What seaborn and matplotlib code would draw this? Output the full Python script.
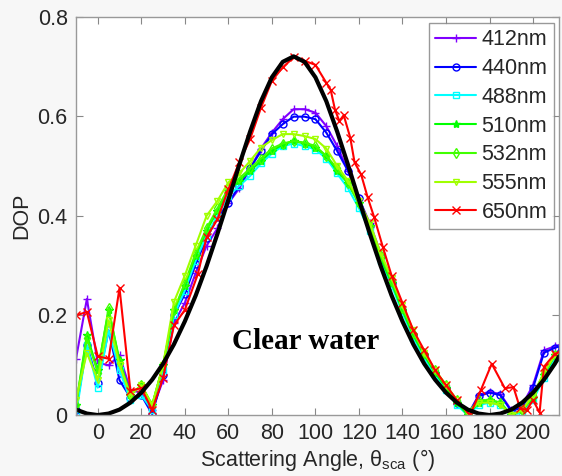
import numpy as np
import pandas as pd
import matplotlib
matplotlib.use("Agg")
import matplotlib.pyplot as plt
import seaborn as sns

# ---------------- data ----------------
angles = [-10, -5, 0, 5, 10, 15, 20, 25, 30, 35, 40, 45, 50, 55, 60, 65, 70, 75, 80, 85,
          90, 95, 100, 105, 110, 115, 120, 125, 130, 135, 140, 145, 150, 155, 160, 165,
          170, 175, 180, 185, 190, 195, 200, 205, 210, 215]

dop_412 = [0.113, 0.233, 0.105, 0.100, 0.120, 0.050, 0.045, 0.010, 0.070, 0.185, 0.225, 0.285,
           0.340, 0.375, 0.425, 0.455, 0.495, 0.535, 0.567, 0.594, 0.614, 0.614, 0.607, 0.580,
           0.540, 0.490, 0.435, 0.385, 0.325, 0.265, 0.210, 0.160, 0.120, 0.085, 0.055, 0.025,
           0.000, 0.040, 0.047, 0.042, 0.010, 0.020, 0.060, 0.130, 0.138, 0.145]
dop_440 = [0.010, 0.140, 0.065, 0.170, 0.070, 0.035, 0.040, 0.002, 0.080, 0.200, 0.243, 0.303,
           0.355, 0.397, 0.425, 0.460, 0.495, 0.530, 0.564, 0.584, 0.599, 0.599, 0.594, 0.567,
           0.530, 0.490, 0.435, 0.380, 0.320, 0.265, 0.210, 0.160, 0.120, 0.085, 0.055, 0.025,
           0.000, 0.038, 0.045, 0.040, 0.008, 0.015, 0.055, 0.125, 0.135, 0.142]
dop_488 = [0.000, 0.140, 0.055, 0.170, 0.090, 0.030, 0.040, 0.010, 0.090, 0.200, 0.250, 0.310,
           0.360, 0.400, 0.440, 0.460, 0.480, 0.505, 0.525, 0.540, 0.545, 0.540, 0.533, 0.515,
           0.485, 0.455, 0.415, 0.370, 0.310, 0.260, 0.205, 0.155, 0.115, 0.080, 0.050, 0.020,
           0.000, 0.020, 0.025, 0.020, 0.000, 0.005, 0.030, 0.075, 0.115, 0.125]
dop_510 = [0.020, 0.160, 0.090, 0.210, 0.110, 0.040, 0.060, 0.020, 0.100, 0.210, 0.260, 0.320,
           0.370, 0.410, 0.450, 0.470, 0.490, 0.510, 0.530, 0.543, 0.550, 0.545, 0.537, 0.520,
           0.490, 0.465, 0.425, 0.380, 0.315, 0.265, 0.210, 0.160, 0.120, 0.085, 0.055, 0.025,
           0.000, 0.025, 0.030, 0.025, 0.000, 0.010, 0.035, 0.080, 0.120, 0.130]
dop_532 = [0.020, 0.155, 0.085, 0.215, 0.105, 0.040, 0.060, 0.020, 0.100, 0.210, 0.265, 0.325,
           0.375, 0.415, 0.455, 0.475, 0.495, 0.515, 0.535, 0.545, 0.550, 0.547, 0.540, 0.520,
           0.495, 0.465, 0.425, 0.380, 0.320, 0.270, 0.215, 0.165, 0.125, 0.090, 0.060, 0.030,
           0.005, 0.030, 0.030, 0.025, 0.000, 0.010, 0.040, 0.085, 0.120, 0.130]
dop_555 = [0.030, 0.125, 0.070, 0.190, 0.100, 0.040, 0.060, 0.020, 0.100, 0.227, 0.280, 0.340,
           0.400, 0.430, 0.467, 0.485, 0.510, 0.537, 0.552, 0.564, 0.564, 0.560, 0.554, 0.535,
           0.500, 0.470, 0.430, 0.385, 0.325, 0.275, 0.220, 0.170, 0.125, 0.090, 0.060, 0.030,
           0.005, 0.025, 0.025, 0.020, 0.000, 0.010, 0.040, 0.085, 0.120, 0.130]

angles_650 = [-10, -5, 0, 5, 10, 15, 20, 25, 30, 35, 40, 46, 50, 55, 60, 65, 70, 75, 80, 85,
              90, 95, 100, 105, 107, 109, 111, 113, 116, 118, 121, 124, 127, 131, 135, 140,
              145, 150, 155, 160, 165, 171, 176, 181, 187, 191, 194, 197, 200, 203, 205, 210, 215]
dop_650 = [0.200, 0.207, 0.118, 0.113, 0.255, 0.049, 0.054, 0.010, 0.075, 0.180, 0.211, 0.283,
           0.357, 0.393, 0.453, 0.507, 0.554, 0.617, 0.671, 0.698, 0.718, 0.711, 0.703, 0.667,
           0.653, 0.613, 0.590, 0.602, 0.557, 0.507, 0.483, 0.437, 0.397, 0.337, 0.280, 0.225,
           0.170, 0.130, 0.090, 0.060, 0.030, 0.000, 0.050, 0.103, 0.054, 0.056, 0.014, 0.010,
           0.030, 0.005, 0.097, 0.123, 0.130]

# theoretical clear-water curve
angles_theory = [-10, -5, 0, 5, 10, 15, 20, 25, 30, 35, 40, 45, 50, 55, 60, 65, 70, 75, 80, 85,
                 90, 95, 100, 105, 110, 115, 120, 125, 130, 135, 140, 145, 150, 155, 160, 165,
                 170, 175, 180, 185, 190, 195, 200, 205, 210, 212]
dop_theory = [0.011, 0.003, 0.000, 0.003, 0.011, 0.025, 0.045, 0.071, 0.103, 0.142, 0.188, 0.240,
              0.299, 0.364, 0.432, 0.502, 0.569, 0.630, 0.678, 0.709, 0.720, 0.709, 0.678, 0.630,
              0.569, 0.502, 0.432, 0.364, 0.299, 0.240, 0.188, 0.142, 0.103, 0.071, 0.045, 0.025,
              0.011, 0.003, 0.000, 0.003, 0.011, 0.025, 0.045, 0.071, 0.103, 0.118]

labels = ["412nm", "440nm", "488nm", "510nm", "532nm", "555nm", "650nm"]
colors = ["#8000ff", "#0000ff", "#00ffff", "#00ff00", "#40ff00", "#a0ff00", "#ff0000"]
markers = ["+", "o", "s", "*", "d", "v", "x"]
x_ticks = [0, 20, 40, 60, 80, 100, 120, 140, 160, 180, 200]
y_ticks = [0, 0.2, 0.4, 0.6, 0.8]

series = [(angles, dop_412), (angles, dop_440), (angles, dop_488), (angles, dop_510),
          (angles, dop_532), (angles, dop_555), (angles_650, dop_650)]

# ---------------- plot ----------------
sns.set_theme(style="white")
plt.rcParams["font.family"] = ["Liberation Sans", "DejaVu Sans"]

fig = plt.figure(figsize=(5.62, 4.76), dpi=100, facecolor="#f7f7f7")
ax = fig.add_axes([0.1352, 0.128, 0.995 - 0.1352, 0.9653 - 0.128])
ax.set_facecolor("white")

for (xs, ys), lab, col, mk in zip(series, labels, colors, markers):
    df = pd.DataFrame({"angle": xs, "dop": ys})
    filled = mk in ("+", "x", "*")
    sns.lineplot(data=df, x="angle", y="dop", ax=ax, color=col, label=lab,
                 marker=mk, markersize=5 if not filled else 6,
                 markerfacecolor=col if filled else "none",
                 markeredgecolor=col, markeredgewidth=1.0,
                 linewidth=1.5, sort=False, estimator=None)

df_t = pd.DataFrame({"angle": angles_theory, "dop": dop_theory})
sns.lineplot(data=df_t, x="angle", y="dop", ax=ax, color="black", linewidth=3,
             sort=False, estimator=None)

ax.set_xlim(-10, 212)
ax.set_ylim(0, 0.8)
ax.set_xticks(x_ticks)
ax.set_yticks(y_ticks)
ax.set_xticklabels([str(t) for t in x_ticks])
ax.set_yticklabels(["0", "0.2", "0.4", "0.6", "0.8"])
ax.tick_params(direction="in", length=5, width=0.8, color="#888888",
               labelsize=15.5, pad=6, top=True, right=True, bottom=True, left=True)
for s in ax.spines.values():
    s.set_visible(True)
    s.set_color("#999999")
    s.set_linewidth(1.0)

ax.set_xlabel(r"Scattering Angle, $\mathregular{\theta_{sca}}$ (°)", fontsize=15.5, labelpad=2)
ax.set_ylabel("DOP", fontsize=15.5, labelpad=4)

ax.text(0.475, 0.185, "Clear water", transform=ax.transAxes, ha="center", va="center",
        fontsize=21, fontweight="bold", family="Liberation Serif", color="black")

handles, labs = ax.get_legend_handles_labels()
leg = ax.legend(handles[:7], labs[:7], loc="upper right",
                bbox_to_anchor=(0.989, 0.984), borderaxespad=0, fontsize=15.5,
                frameon=True, fancybox=False, edgecolor="#808080",
                handlelength=1.9, handletextpad=0.25, labelspacing=0.36,
                borderpad=0.3)
leg.get_frame().set_linewidth(1.0)

fig.savefig("out.png", dpi=100, facecolor=fig.get_facecolor())
